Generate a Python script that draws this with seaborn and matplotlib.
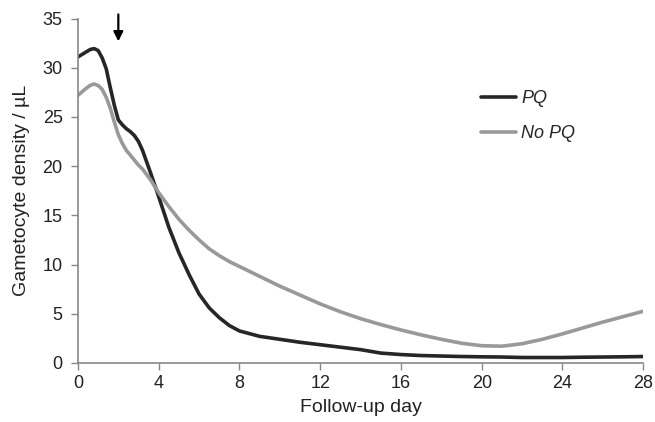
import numpy as np
import pandas as pd
import matplotlib
matplotlib.use("Agg")
import matplotlib.pyplot as plt
import seaborn as sns

# values
days = [0, 0.2, 0.4, 0.6, 0.8, 1.0, 1.2, 1.4, 1.6, 1.8, 2.0, 2.2, 2.4, 2.6,
        2.8, 3.0, 3.2, 3.6, 4.0, 4.5, 5, 5.5, 6, 6.5, 7, 7.5, 8, 9, 10, 11,
        12, 13, 14, 15, 16, 17, 18, 19, 20, 21, 22, 23, 24, 25, 26, 27, 28]
pq = [31.1, 31.35, 31.6, 31.85, 31.95, 31.75, 31.0, 29.9, 28.0, 26.2, 24.7,
      24.2, 23.8, 23.5, 23.1, 22.5, 21.6, 19.3, 16.9, 13.8, 11.2, 9.0, 7.0,
      5.6, 4.6, 3.8, 3.25, 2.7, 2.4, 2.1, 1.85, 1.6, 1.35, 1.0, 0.85, 0.75,
      0.7, 0.65, 0.62, 0.6, 0.55, 0.55, 0.55, 0.58, 0.6, 0.62, 0.65]
no_pq = [27.2, 27.55, 27.9, 28.2, 28.35, 28.2, 27.8, 27.0, 25.9, 24.5, 23.2,
         22.3, 21.6, 21.1, 20.6, 20.1, 19.7, 18.6, 17.3, 15.9, 14.6, 13.5,
         12.5, 11.6, 10.9, 10.3, 9.8, 8.8, 7.8, 6.9, 6.0, 5.2, 4.5, 3.9, 3.35,
         2.85, 2.4, 2.0, 1.75, 1.7, 1.95, 2.4, 2.95, 3.55, 4.15, 4.7, 5.25]
groups = ["PQ", "No PQ"]
x_ticks = [0, 4, 8, 12, 16, 20, 24, 28]
y_ticks = [0, 5, 10, 15, 20, 25, 30, 35]
arrow_day = 2

df = pd.DataFrame({
    "day": days + days,
    "density": pq + no_pq,
    "group": ["PQ"] * len(days) + ["No PQ"] * len(days),
})

sns.set_style("ticks")
plt.rcParams["font.family"] = ["Liberation Sans", "DejaVu Sans"]

fig = plt.figure(figsize=(6.55, 4.22), dpi=100)
ax = fig.add_axes([0.119, 0.14, 0.863, 0.816])

sns.lineplot(data=df, x="day", y="density", hue="group", hue_order=groups,
             palette={"PQ": "#262626", "No PQ": "#999999"},
             linewidth=2.6, ax=ax, legend=False, solid_joinstyle="round")

ax.set_xlim(0, 28)
ax.set_ylim(0, 35)
ax.set_xticks(x_ticks)
ax.set_yticks(y_ticks)
ax.tick_params(labelsize=13, length=5, width=1, color="#888888",
               labelcolor="#222222")
ax.tick_params(axis="y", pad=6)
for side in ["top", "right"]:
    ax.spines[side].set_visible(False)
for side in ["left", "bottom"]:
    ax.spines[side].set_color("#888888")
    ax.spines[side].set_linewidth(1.2)

ax.set_xlabel("Follow-up day", fontsize=14, color="#222222", labelpad=5)
ax.set_ylabel("Gametocyte density / µL", fontsize=14, color="#222222", labelpad=9)

# arrow marking day 2
ax.annotate("", xy=(arrow_day, 32.4), xytext=(arrow_day, 35.7),
            arrowprops=dict(arrowstyle="-|>", color="black", lw=1.6,
                            mutation_scale=14), annotation_clip=False)

handles = [plt.Line2D([], [], color="#262626", lw=2.6),
           plt.Line2D([], [], color="#999999", lw=2.6)]
leg = ax.legend(handles, groups, loc="upper left", bbox_to_anchor=(0.685, 0.84),
                frameon=False, fontsize=13, handlelength=1.9, handletextpad=0.3,
                labelspacing=1.0)
for t in leg.get_texts():
    t.set_fontstyle("italic")

fig.savefig("out.png", dpi=100)
